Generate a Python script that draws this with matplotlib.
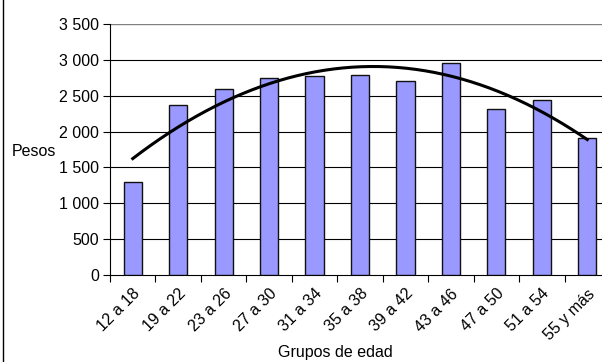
import matplotlib
matplotlib.use("Agg")
import matplotlib.pyplot as plt
from matplotlib.lines import Line2D
import numpy as np

plt.rcParams['font.family'] = ['Liberation Sans', 'DejaVu Sans']

grupos = ["12 a 18", "19 a 22", "23 a 26", "27 a 30", "31 a 34", "35 a 38",
          "39 a 42", "43 a 46", "47 a 50", "51 a 54", "55 y más"]
pesos = [1290, 2370, 2590, 2750, 2770, 2790, 2710, 2950, 2315, 2440, 1915]
y_ticks = [0, 500, 1000, 1500, 2000, 2500, 3000, 3500]
y_labels = ["0", "500", "1 000", "1 500", "2 000", "2 500", "3 000", "3 500"]

FS = 11.5
W, H = 602, 362
fig = plt.figure(figsize=(W / 100, H / 100), dpi=100)
ax = fig.add_axes([110 / W, 87 / H, 500 / W, 251 / H])

x = np.arange(len(grupos))
ax.bar(x, pesos, width=0.4, color="#9999ff", edgecolor="#111111", linewidth=1.0, zorder=3)

# polynomial trend (order 2)
coef = np.polyfit(x, pesos, 2)
xs = np.linspace(x[0], x[-1], 200)
ax.plot(xs, np.polyval(coef, xs), color="black", lw=2.2, zorder=4)

ax.set_xlim(-0.5, len(grupos) - 0.5)
ax.set_ylim(0, 3500)

for v in y_ticks[1:-1]:
    ax.axhline(v, color="black", lw=0.8, zorder=1)
ax.axhline(3500, color="#808080", lw=1.0, zorder=1)

ax.set_yticks(y_ticks)
ax.set_yticklabels(y_labels, fontsize=FS)
ax.tick_params(axis="y", length=5, width=0.8, pad=3)

ax.set_xticks(x)
ax.set_xticklabels(grupos, fontsize=FS, rotation=45, ha="right", rotation_mode="anchor")
ax.set_xticks(np.arange(-0.5, len(grupos)), minor=True)
ax.tick_params(axis="x", which="major", length=0, pad=8)
ax.tick_params(axis="x", which="minor", length=5, width=0.8)

for s in ["top", "right"]:
    ax.spines[s].set_visible(False)
ax.spines["left"].set_linewidth(0.8)
ax.spines["bottom"].set_linewidth(0.8)

fig.text(12 / W, 1 - 151 / H, "Pesos", fontsize=FS, va="center", ha="left")
fig.text(335 / W, 1 - 353 / H, "Grupos de edad", fontsize=FS, va="center", ha="center")

# chart frame on the left edge
fig.add_artist(Line2D([2.5 / W, 2.5 / W], [0, 1], color="black", lw=1.0))

fig.savefig("out.png", dpi=100)
